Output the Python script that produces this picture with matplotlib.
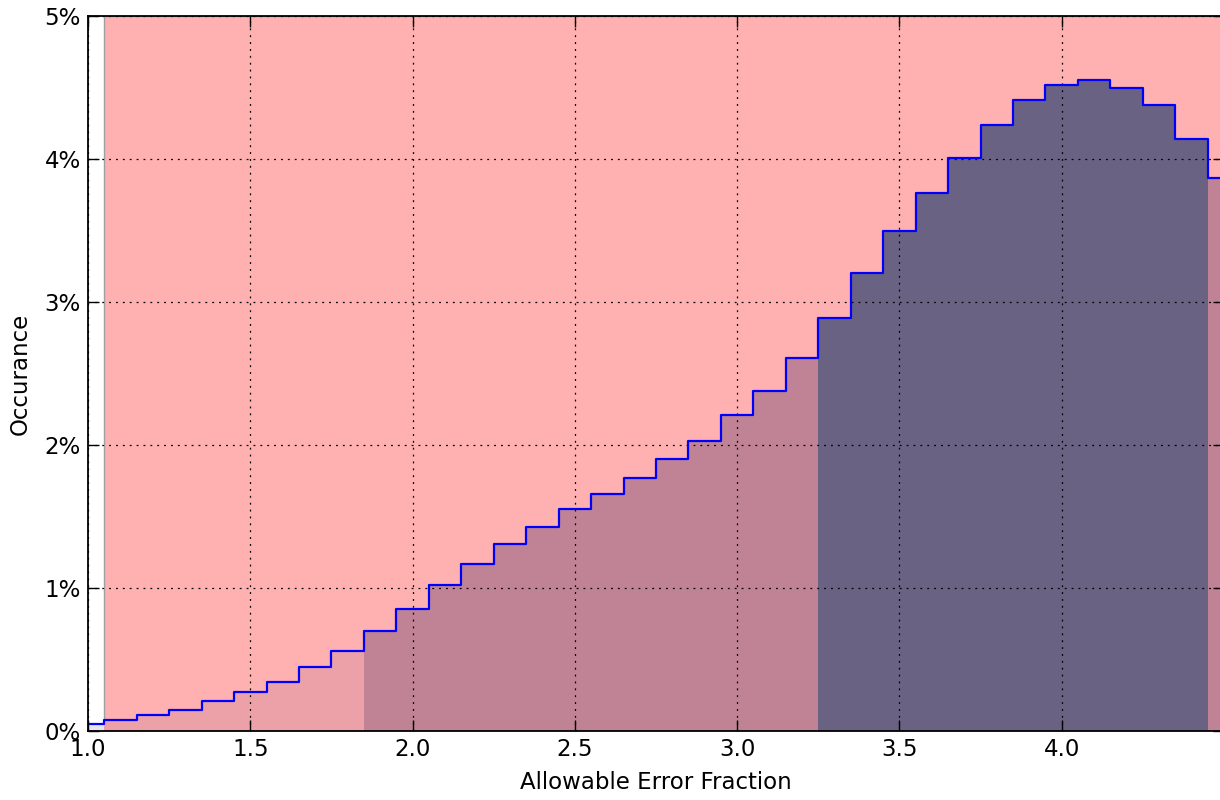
import matplotlib
matplotlib.use("Agg")
import matplotlib.pyplot as plt
import numpy as np
from matplotlib.ticker import FuncFormatter

# Bin centres (width 0.1) and occurrence in percent
bin_centers = [1.0, 1.1, 1.2, 1.3, 1.4, 1.5, 1.6, 1.7, 1.8, 1.9,
               2.0, 2.1, 2.2, 2.3, 2.4, 2.5, 2.6, 2.7, 2.8, 2.9,
               3.0, 3.1, 3.2, 3.3, 3.4, 3.5, 3.6, 3.7, 3.8, 3.9,
               4.0, 4.1, 4.2, 4.3, 4.4, 4.5]
occurrence = [0.05, 0.08, 0.11, 0.15, 0.21, 0.27, 0.34, 0.45, 0.56, 0.70,
              0.85, 1.02, 1.17, 1.31, 1.43, 1.55, 1.66, 1.77, 1.90, 2.03,
              2.21, 2.38, 2.61, 2.89, 3.20, 3.50, 3.76, 4.01, 4.24, 4.41,
              4.52, 4.55, 4.50, 4.38, 4.14, 3.87]
# shading zone of each bin
zones = ["a"] * 1 + ["b"] * 8 + ["c"] * 14 + ["d"] * 12 + ["c"] * 1

zone_colors = {"a": "#e6e4f0", "b": "#eca1a9", "c": "#c08396", "d": "#6a6283"}
bg_color = "#ffb1b1"

fig = plt.figure(figsize=(12.2, 8), dpi=100)
ax = fig.add_axes([88 / 1220, 69 / 800, (1224 - 88) / 1220, 715 / 800])

ax.axvspan(1.05, 4.6, facecolor=bg_color, edgecolor="#a0a0a0", linewidth=1.0, zorder=0)

x = np.array(bin_centers)
y = np.array(occurrence)
ax.bar(x, y, width=0.1, align="center",
       color=[zone_colors[z] for z in zones], linewidth=0, zorder=1)
ax.plot(x, y, drawstyle="steps-mid", color="#0000ff", linewidth=1.6, zorder=3)

ax.set_xlim(1.0, 4.5)
ax.set_ylim(0, 5)
ax.set_xticks([1.0, 1.5, 2.0, 2.5, 3.0, 3.5, 4.0])
ax.set_yticks([0, 1, 2, 3, 4, 5])
ax.yaxis.set_major_formatter(FuncFormatter(lambda v, p: f"{v:.0f}%"))

ax.grid(True, color="black", linestyle=(0, (1.5, 4)), linewidth=0.9, zorder=2)
ax.set_axisbelow(False)
for gl in ax.get_xgridlines() + ax.get_ygridlines():
    gl.set_zorder(2)

ax.tick_params(direction="in", top=True, right=True, length=8, width=1,
               labelsize=16.5, pad=5)
for s in ax.spines.values():
    s.set_linewidth(1.3)
    s.set_zorder(4)

ax.set_xlabel("Allowable Error Fraction", fontsize=16.5, labelpad=7)
ax.set_ylabel("Occurance", fontsize=16.5, labelpad=9)

fig.savefig("out.png", dpi=100)
